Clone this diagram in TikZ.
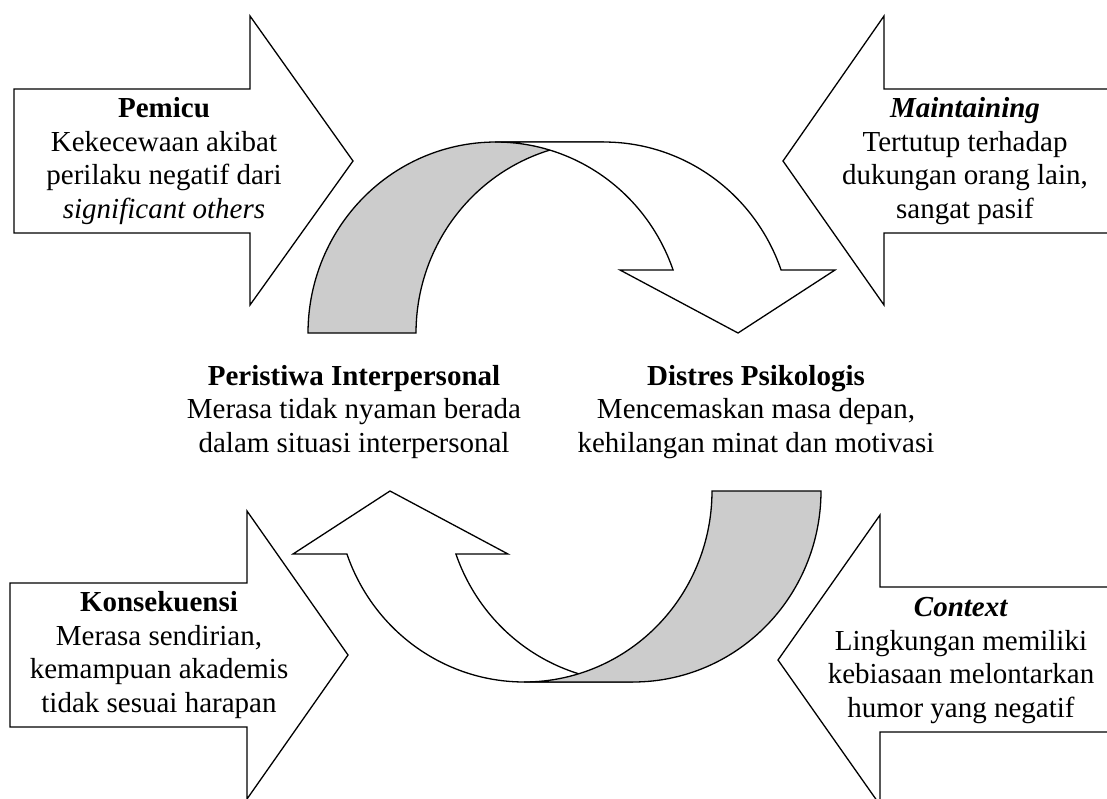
\documentclass[tikz,border=0pt]{standalone}
\usepackage{fontspec}
\setmainfont{Liberation Serif}
\begin{document}
\begin{tikzpicture}[x=1pt,y=-1pt,
  outline/.style={draw=black,line width=1.3pt,line join=miter},
  blockarrow/.style={outline,fill=white},
  backface/.style={outline,fill=black!20},
  frontface/.style={outline,fill=white},
  caption/.style={align=center,inner sep=0pt,anchor=base,
    font=\fontsize{29}{33.5}\selectfont,text=black},
]
\useasboundingbox (0,0) rectangle (1107,798);
\clip (0,0) rectangle (1107,798);

% straight block arrows pointing towards the cycle
\draw[blockarrow] (14,89) -- (250,89) -- (250,16) -- (353,161) -- (250,305) -- (250,233) -- (14,233) -- cycle;
\draw[blockarrow] (1120,89) -- (884,89) -- (884,16) -- (783,161) -- (884,305) -- (884,233) -- (1120,233) -- cycle;
\draw[blockarrow] (10,583) -- (247,583) -- (247,511) -- (348,655) -- (247,799) -- (247,727) -- (10,727) -- cycle;
\draw[blockarrow] (1120,587) -- (880,587) -- (880,515) -- (778,660) -- (880,805) -- (880,732) -- (1120,732) -- cycle;

% upper curved arrow: shaded back of the tail, then the front band with its head
\draw[backface]
  plot[domain=180:90,samples=60] ({495.8+187.8*cos(\x)},{333-191*sin(\x)})
  -- (603.8,142)
  -- plot[domain=90:180,samples=60] ({603.8+187.8*cos(\x)},{333-191*sin(\x)})
  -- cycle;
\draw[frontface]
  (495.8,142) -- (603.8,142)
  -- plot[domain=90:19.26,samples=60] ({603.8+187.8*cos(\x)},{333-191*sin(\x)})
  -- (835,270) -- (738,333) -- (620,270)
  -- plot[domain=19.26:90,samples=60] ({495.8+187.8*cos(\x)},{333-191*sin(\x)})
  -- cycle;

% lower curved arrow: front band with its head, then the shaded tail on top
\draw[frontface]
  (346.9,554) -- (293,554) -- (390,491) -- (508,554)
  -- plot[domain=199.26:270,samples=60] ({633.2+187.8*cos(\x)},{491-191*sin(\x)})
  -- plot[domain=270:199.26,samples=60] ({524.2+187.8*cos(\x)},{491-191*sin(\x)})
  -- cycle;
\draw[backface]
  plot[domain=270:360,samples=60] ({524.2+187.8*cos(\x)},{491-191*sin(\x)})
  -- (821,491)
  -- plot[domain=360:270,samples=60] ({633.2+187.8*cos(\x)},{491-191*sin(\x)})
  -- cycle;

% captions (anchored at the baseline of their last line)
\node[caption] (pemicu) at (164,218)
  {\textbf{Pemicu}\\Kekecewaan akibat\\perilaku negatif dari\\\textit{significant others}};
\node[caption] (maintaining) at (965,218)
  {\textbf{\textit{Maintaining}}\\Tertutup terhadap\\dukungan orang lain,\\sangat pasif};
\node[caption] (peristiwa) at (354,452)
  {\textbf{Peristiwa Interpersonal}\\Merasa tidak nyaman berada\\dalam situasi interpersonal};
\node[caption] (distres) at (756,452)
  {\textbf{Distres Psikologis}\\Mencemaskan masa depan,\\kehilangan minat dan motivasi};
\node[caption] (konsekuensi) at (159,712)
  {\textbf{Konsekuensi}\\Merasa sendirian,\\kemampuan akademis\\tidak sesuai harapan};
\node[caption] (context) at (961,717)
  {\textbf{\textit{Context}}\\Lingkungan memiliki\\kebiasaan melontarkan\\humor yang negatif};
\end{tikzpicture}
\end{document}
